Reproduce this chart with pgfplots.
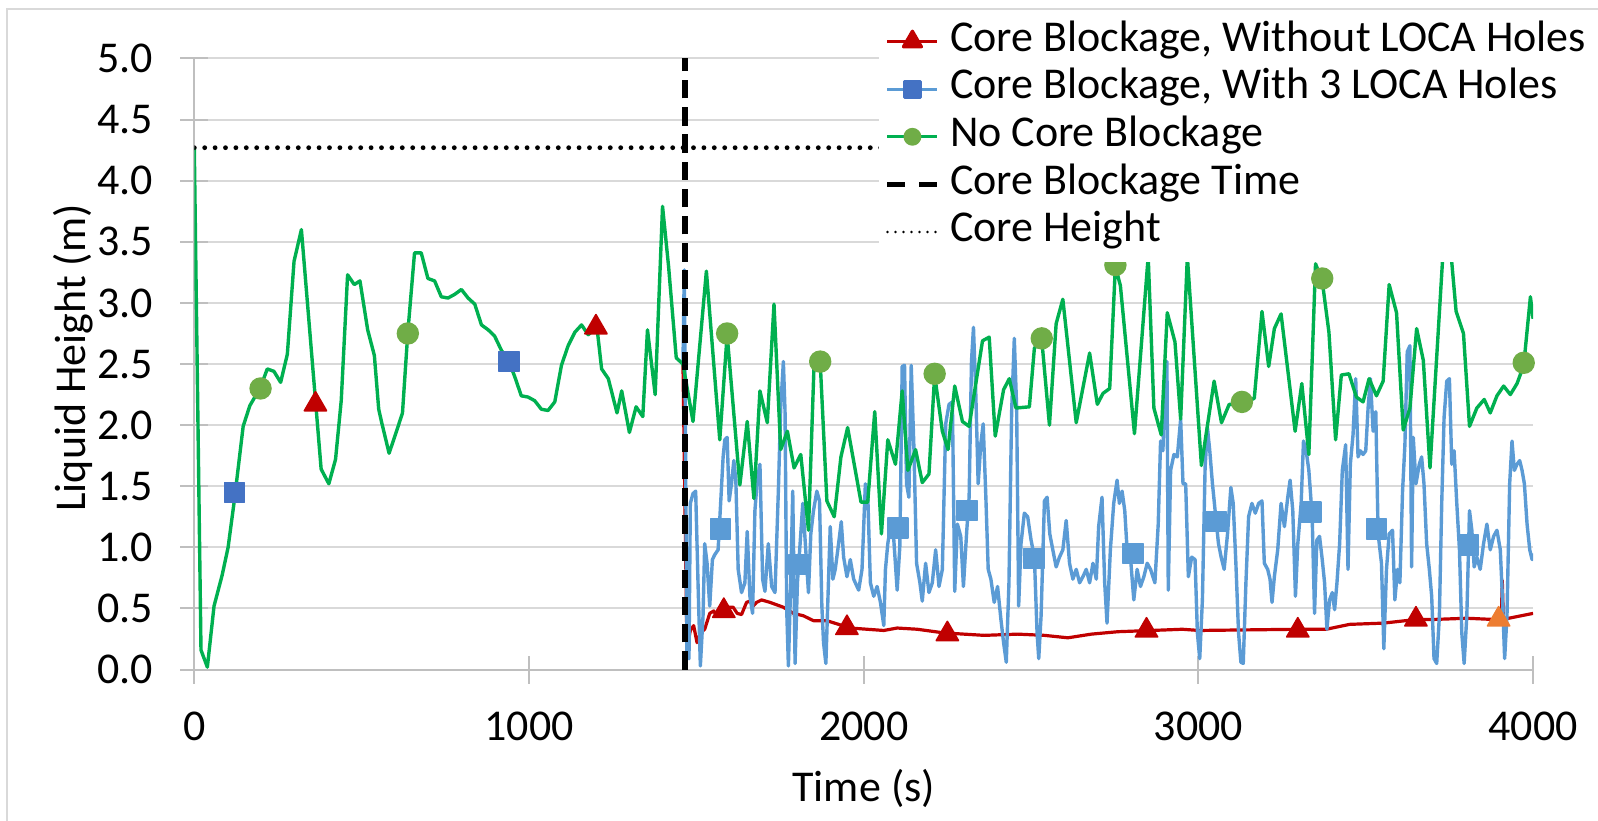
\documentclass[border=0pt]{standalone}
\usepackage{pgfplots}
\pgfplotsset{compat=1.18}
\usepackage{pgfplotstable}
\usepackage{fontspec}
\setmainfont{Carlito}

\definecolor{cbred}{HTML}{C00000}
\definecolor{cbblue}{HTML}{5B9BD5}
\definecolor{cbbluemk}{HTML}{4472C4}
\definecolor{ncgreen}{HTML}{00B050}
\definecolor{ncgreenmk}{HTML}{70AD47}
\definecolor{orangemk}{HTML}{ED7D31}
\definecolor{gridgray}{HTML}{D9D9D9}
\definecolor{axisgray}{HTML}{BFBFBF}

% No core blockage (identical to the other two runs before 1466 s)
\pgfplotstableread{
t v
0 4.27
20 0.16
39 0.02
59 0.52
83 0.77
101 1.00
119 1.37
146 1.99
166 2.16
198 2.31
218 2.46
238 2.44
258 2.35
278 2.58
298 3.34
320 3.60
379 1.64
402 1.52
422 1.72
439 2.20
458 3.23
478 3.15
495 3.18
518 2.78
538 2.57
551 2.13
560 2.02
582 1.77
603 1.94
622 2.10
638 2.76
658 3.41
678 3.41
698 3.20
718 3.18
738 3.05
758 3.04
778 3.07
798 3.11
818 3.04
838 2.99
858 2.82
878 2.78
897 2.73
918 2.61
937 2.54
957 2.40
977 2.24
997 2.23
1017 2.20
1037 2.13
1057 2.12
1077 2.19
1097 2.49
1117 2.65
1137 2.76
1157 2.82
1177 2.74
1203 2.80
1217 2.46
1237 2.38
1263 2.10
1277 2.28
1300 1.94
1320 2.15
1340 2.07
1354 2.78
1377 2.25
1399 3.79
1417 3.30
1440 2.55
1460 2.50
1490 2.03
1530 3.26
1570 1.88
1592 2.74
1630 1.51
1652 2.03
1672 1.40
1690 2.28
1712 2.02
1732 2.99
1752 1.80
1772 1.95
1792 1.65
1812 1.76
1835 1.14
1852 2.52
1870 2.52
1890 1.38
1912 1.25
1932 1.74
1952 1.98
1992 1.37
2012 1.37
2033 2.11
2053 1.11
2072 1.88
2095 1.68
2115 2.28
2132 1.63
2155 1.80
2175 1.53
2195 1.60
2212 2.41
2235 1.95
2252 1.80
2272 2.32
2295 2.03
2315 1.99
2355 2.69
2375 2.72
2393 1.91
2418 2.29
2435 2.38
2455 2.14
2495 2.15
2510 2.63
2532 2.70
2555 2.00
2575 2.83
2595 3.03
2635 2.02
2675 2.59
2698 2.17
2715 2.26
2735 2.30
2752 3.30
2767 3.14
2809 1.93
2850 3.38
2867 2.14
2889 1.92
2907 2.92
2930 2.68
2947 2.05
2967 3.38
3009 1.67
3047 2.36
3069 2.02
3092 2.17
3130 2.17
3167 2.22
3190 2.93
3210 2.48
3227 2.79
3247 2.91
3289 1.95
3309 2.34
3330 1.76
3350 3.32
3370 3.18
3390 2.76
3410 1.88
3427 2.41
3450 2.42
3472 2.23
3492 2.19
3510 2.38
3532 2.24
3552 2.36
3570 3.15
3592 2.92
3612 1.96
3632 2.14
3652 2.79
3672 2.53
3692 1.65
3735 3.60
3750 3.55
3770 2.93
3792 2.75
3810 1.99
3832 2.14
3854 2.21
3872 2.10
3892 2.24
3912 2.32
3932 2.25
3952 2.34
3972 2.49
3992 3.05
4000 2.87
}\greendata

% Core blockage with 3 LOCA holes (after blockage time)
\pgfplotstableread{
t v
1460 2.50
1464 3.27
1472 0.10
1478 0.09
1482 1.36
1490 1.44
1498 1.46
1505 0.71
1512 0.03
1520 0.44
1525 1.03
1532 0.87
1540 0.52
1548 0.90
1555 0.94
1565 0.98
1572 1.33
1580 1.74
1585 1.88
1592 1.90
1598 1.38
1605 1.52
1612 1.71
1618 1.55
1625 0.82
1635 0.63
1645 0.71
1652 1.13
1660 0.60
1668 0.46
1675 1.30
1682 1.55
1690 1.68
1698 0.74
1705 0.64
1715 1.03
1725 0.68
1735 0.63
1745 1.46
1752 2.14
1760 2.52
1765 2.11
1770 0.49
1775 0.03
1782 0.71
1788 1.46
1795 0.05
1802 0.71
1810 1.03
1818 1.36
1825 1.06
1835 0.63
1842 1.11
1850 1.30
1860 1.46
1868 1.38
1875 0.52
1880 0.22
1887 0.05
1893 0.57
1900 1.17
1908 0.74
1915 0.82
1925 1.03
1933 1.21
1940 0.92
1950 0.76
1960 0.90
1970 0.74
1985 0.65
1995 0.82
2005 1.52
2012 1.44
2020 0.71
2030 0.60
2040 0.68
2050 0.55
2060 0.36
2065 0.82
2072 1.03
2080 1.17
2090 1.06
2100 0.65
2108 1.01
2115 2.48
2122 2.49
2128 1.52
2135 1.41
2142 2.49
2150 1.82
2158 0.87
2168 0.71
2175 0.56
2185 0.87
2195 0.63
2205 0.71
2215 0.98
2225 0.68
2235 0.82
2245 2.01
2255 2.17
2265 2.19
2272 0.64
2280 1.19
2290 1.09
2298 0.68
2308 1.14
2315 1.41
2322 2.52
2328 2.80
2335 2.25
2342 1.52
2350 1.85
2357 2.01
2365 1.41
2372 0.82
2380 0.74
2390 0.55
2400 0.68
2410 0.41
2418 0.22
2426 0.06
2434 0.71
2442 2.11
2450 2.71
2457 2.14
2463 0.52
2470 1.03
2480 1.28
2490 1.25
2500 1.06
2510 0.92
2518 0.30
2523 0.09
2530 0.44
2540 1.38
2548 1.41
2556 1.11
2565 0.98
2575 0.84
2585 0.92
2595 0.98
2605 1.22
2615 0.87
2625 0.74
2635 0.82
2645 0.71
2655 0.76
2665 0.82
2675 0.71
2685 0.87
2695 0.74
2702 1.17
2712 1.41
2720 0.71
2727 0.38
2737 0.98
2747 1.36
2757 1.55
2764 1.36
2772 1.46
2780 1.30
2787 0.98
2797 0.92
2807 0.57
2817 0.82
2827 0.68
2837 0.76
2847 0.87
2857 0.82
2870 0.71
2880 1.19
2887 1.87
2894 1.79
2902 2.52
2906 2.52
2910 0.65
2917 1.63
2927 1.76
2937 1.74
2947 2.05
2954 1.52
2962 1.52
2970 0.76
2980 0.92
2990 0.90
2997 0.30
3004 0.09
3012 0.57
3020 1.65
3027 1.98
3034 1.79
3042 1.52
3050 1.30
3060 1.03
3068 0.92
3077 0.82
3087 1.11
3097 1.49
3104 1.36
3112 0.87
3120 0.30
3127 0.06
3134 0.05
3142 0.71
3150 1.25
3160 1.36
3170 1.28
3180 1.36
3190 1.38
3197 0.87
3207 0.82
3214 0.74
3220 0.55
3227 0.76
3237 0.98
3247 1.36
3257 1.17
3267 1.41
3274 1.55
3282 1.30
3290 0.60
3297 1.03
3307 1.36
3314 1.87
3322 1.79
3330 1.63
3340 1.25
3347 0.46
3354 1.06
3362 1.09
3370 0.90
3377 0.71
3384 0.33
3392 0.57
3400 0.63
3407 0.49
3414 0.71
3422 1.03
3430 1.63
3440 1.84
3447 0.82
3454 1.68
3462 1.92
3470 2.38
3477 1.74
3484 1.79
3492 1.76
3500 1.79
3507 2.14
3514 2.38
3522 1.95
3530 2.11
3537 1.11
3547 0.87
3554 0.17
3562 0.82
3570 1.11
3580 1.14
3587 0.57
3595 0.82
3602 0.71
3610 1.46
3617 1.84
3624 2.60
3632 2.65
3637 0.84
3642 1.90
3650 1.52
3660 1.68
3667 1.74
3674 1.52
3682 1.03
3690 0.82
3697 0.60
3704 0.09
3712 0.05
3720 0.44
3727 1.36
3734 2.06
3742 2.36
3750 2.38
3757 1.68
3764 1.79
3772 1.36
3780 0.98
3787 0.30
3794 0.05
3802 0.44
3810 1.30
3817 1.14
3824 0.84
3832 0.92
3842 0.82
3852 1.03
3862 1.19
3872 0.98
3882 1.09
3892 1.14
3902 0.98
3909 0.55
3915 0.09
3922 0.44
3930 1.52
3937 1.87
3944 1.63
3952 1.68
3960 1.71
3967 1.63
3974 1.52
3982 1.19
3990 0.98
3997 0.90
4000 0.95
}\bluedata

% Core blockage without LOCA holes (after blockage time)
\pgfplotstableread{
t v
1460 2.50
1472 0.17
1482 0.32
1492 0.36
1502 0.22
1512 0.30
1525 0.33
1540 0.46
1552 0.48
1560 0.44
1575 0.49
1595 0.51
1610 0.51
1622 0.46
1635 0.45
1650 0.55
1660 0.56
1670 0.52
1680 0.55
1695 0.57
1720 0.55
1760 0.51
1790 0.46
1820 0.44
1850 0.40
1890 0.40
1960 0.34
2060 0.32
2100 0.34
2160 0.33
2240 0.30
2360 0.28
2460 0.29
2540 0.28
2610 0.26
2680 0.29
2760 0.31
2860 0.32
2952 0.33
3002 0.32
3302 0.33
3382 0.33
3452 0.37
3552 0.38
3652 0.41
3702 0.41
3802 0.42
3882 0.41
3905 0.42
3908 0.73
3911 0.42
3927 0.42
4000 0.46
}\reddata

\begin{document}
\begin{tikzpicture}
\begin{axis}[
  scale only axis,
  width=334.7pt, height=152.78pt,
  xmin=0, xmax=4000, ymin=0, ymax=5,
  xtick={0,1000,2000,3000,4000},
  ytick={0,0.5,1,1.5,2,2.5,3,3.5,4,4.5,5},
  axis x line*=bottom, axis y line*=left,
  axis line style={axisgray, line width=0.5pt},
  ymajorgrids, grid style={gridgray, line width=0.5pt},
  tick align=center, major tick length=7pt,
  tick style={axisgray, line width=0.5pt},
  /pgf/number format/assume math mode=true,
  tick label style={font=\fontsize{11}{13}\selectfont, black},
  yticklabel style={/pgf/number format/fixed, /pgf/number format/fixed zerofill,
    /pgf/number format/precision=1, xshift=-3.3pt},
  xticklabel style={/pgf/number format/1000 sep={}, anchor=base, yshift=-14.3pt},
  label style={font=\fontsize{11}{13}\selectfont},
  xlabel={Time (s)},
  xlabel style={at={(axis description cs:0.5,0)}, anchor=base, yshift=-33pt},
  ylabel={Liquid Height (m)},
  ylabel style={at={(axis description cs:-0.0816,0.51)}, anchor=base},
  legend style={at={(rel axis cs:0.5107,1.0777)}, anchor=north west,
    draw=none, fill=white, inner sep=1.5pt, row sep=0pt, column sep=1.5pt,
    font=\fontsize{11}{13}\selectfont,
    nodes={inner xsep=1pt, inner ysep=0pt, text height=8.4pt, text depth=3.5pt}},
  legend cell align=left,
  legend image code/.code={\draw[mark repeat=2,mark phase=2]
    plot coordinates {(0pt,0pt) (6.25pt,0pt) (12.5pt,0pt)};},
  line join=round,
]
\addlegendimage{cbred, line width=0.8pt, mark=triangle*, mark size=2.6pt, mark options={solid, fill=cbred}}
\addlegendentry{Core Blockage, Without LOCA Holes}
\addlegendimage{cbblue, line width=0.8pt, mark=square*, mark size=2pt, mark options={solid, draw=cbbluemk, fill=cbbluemk}}
\addlegendentry{Core Blockage, With 3 LOCA Holes}
\addlegendimage{ncgreen, line width=0.85pt, mark=*, mark size=1.8pt, mark options={solid, draw=ncgreenmk, fill=ncgreenmk}}
\addlegendentry{No Core Blockage}
\addlegendimage{black, line width=1.3pt, dash pattern=on 4.5pt off 3.5pt}
\addlegendentry{Core Blockage Time}
\addlegendimage{black, line width=0.7pt, dash pattern=on 0pt off 2pt, line cap=round}
\addlegendentry{Core Height}

% lines
\addplot[forget plot, cbred, line width=0.8pt] table[x=t, y=v] {\reddata};
\addplot[forget plot, cbblue, line width=0.85pt] table[x=t, y=v] {\bluedata};
\addplot[forget plot, ncgreen, line width=0.85pt] table[x=t, y=v] {\greendata};

% markers
\addplot[forget plot, only marks, mark=triangle*, mark size=3.2pt, cbred, mark options={fill=cbred}]
  coordinates {(362,2.17) (1200,2.80) (1582,0.48) (1950,0.34) (2250,0.29) (2845,0.32) (3297,0.32) (3650,0.41)};
\addplot[forget plot, only marks, mark=triangle*, mark size=3.2pt, orangemk, mark options={fill=orangemk}]
  coordinates {(3897,0.41)};
\addplot[forget plot, only marks, mark=square*, mark size=2.5pt, cbbluemk, mark options={fill=cbbluemk}]
  coordinates {(120,1.45) (940,2.52)};
\addplot[forget plot, only marks, mark=square*, mark size=2.5pt, cbblue, mark options={fill=cbblue}]
  coordinates {(1572,1.15) (1807,0.86) (2103,1.16) (2308,1.30) (2508,0.91) (2805,0.95) (3052,1.21) (3337,1.29) (3532,1.15) (3807,1.02)};
\addplot[forget plot, only marks, mark=*, mark size=2.6pt, ncgreenmk, mark options={fill=ncgreenmk}]
  coordinates {(198,2.30) (638,2.75) (1592,2.75) (1870,2.52) (2212,2.42) (2532,2.71) (2752,3.31) (3130,2.19) (3370,3.20) (3972,2.51)};

% core blockage time and core height
\addplot[forget plot, black, line width=1.3pt, dash pattern=on 4.6pt off 2.2pt] coordinates {(1466,0) (1466,5)};
\addplot[forget plot, black, line width=1.2pt, dash pattern=on 0pt off 2.6pt, line cap=round] coordinates {(0,4.27) (4000,4.27)};
\end{axis}
\draw[gridgray, line width=0.5pt] (-46.8pt,-45pt) -- (-46.8pt,165.15pt) -- (360pt,165.15pt);
\pgfresetboundingbox
\useasboundingbox (-48.575pt,-37.85pt) rectangle (350.925pt,167.4pt);
\end{tikzpicture}
\end{document}
